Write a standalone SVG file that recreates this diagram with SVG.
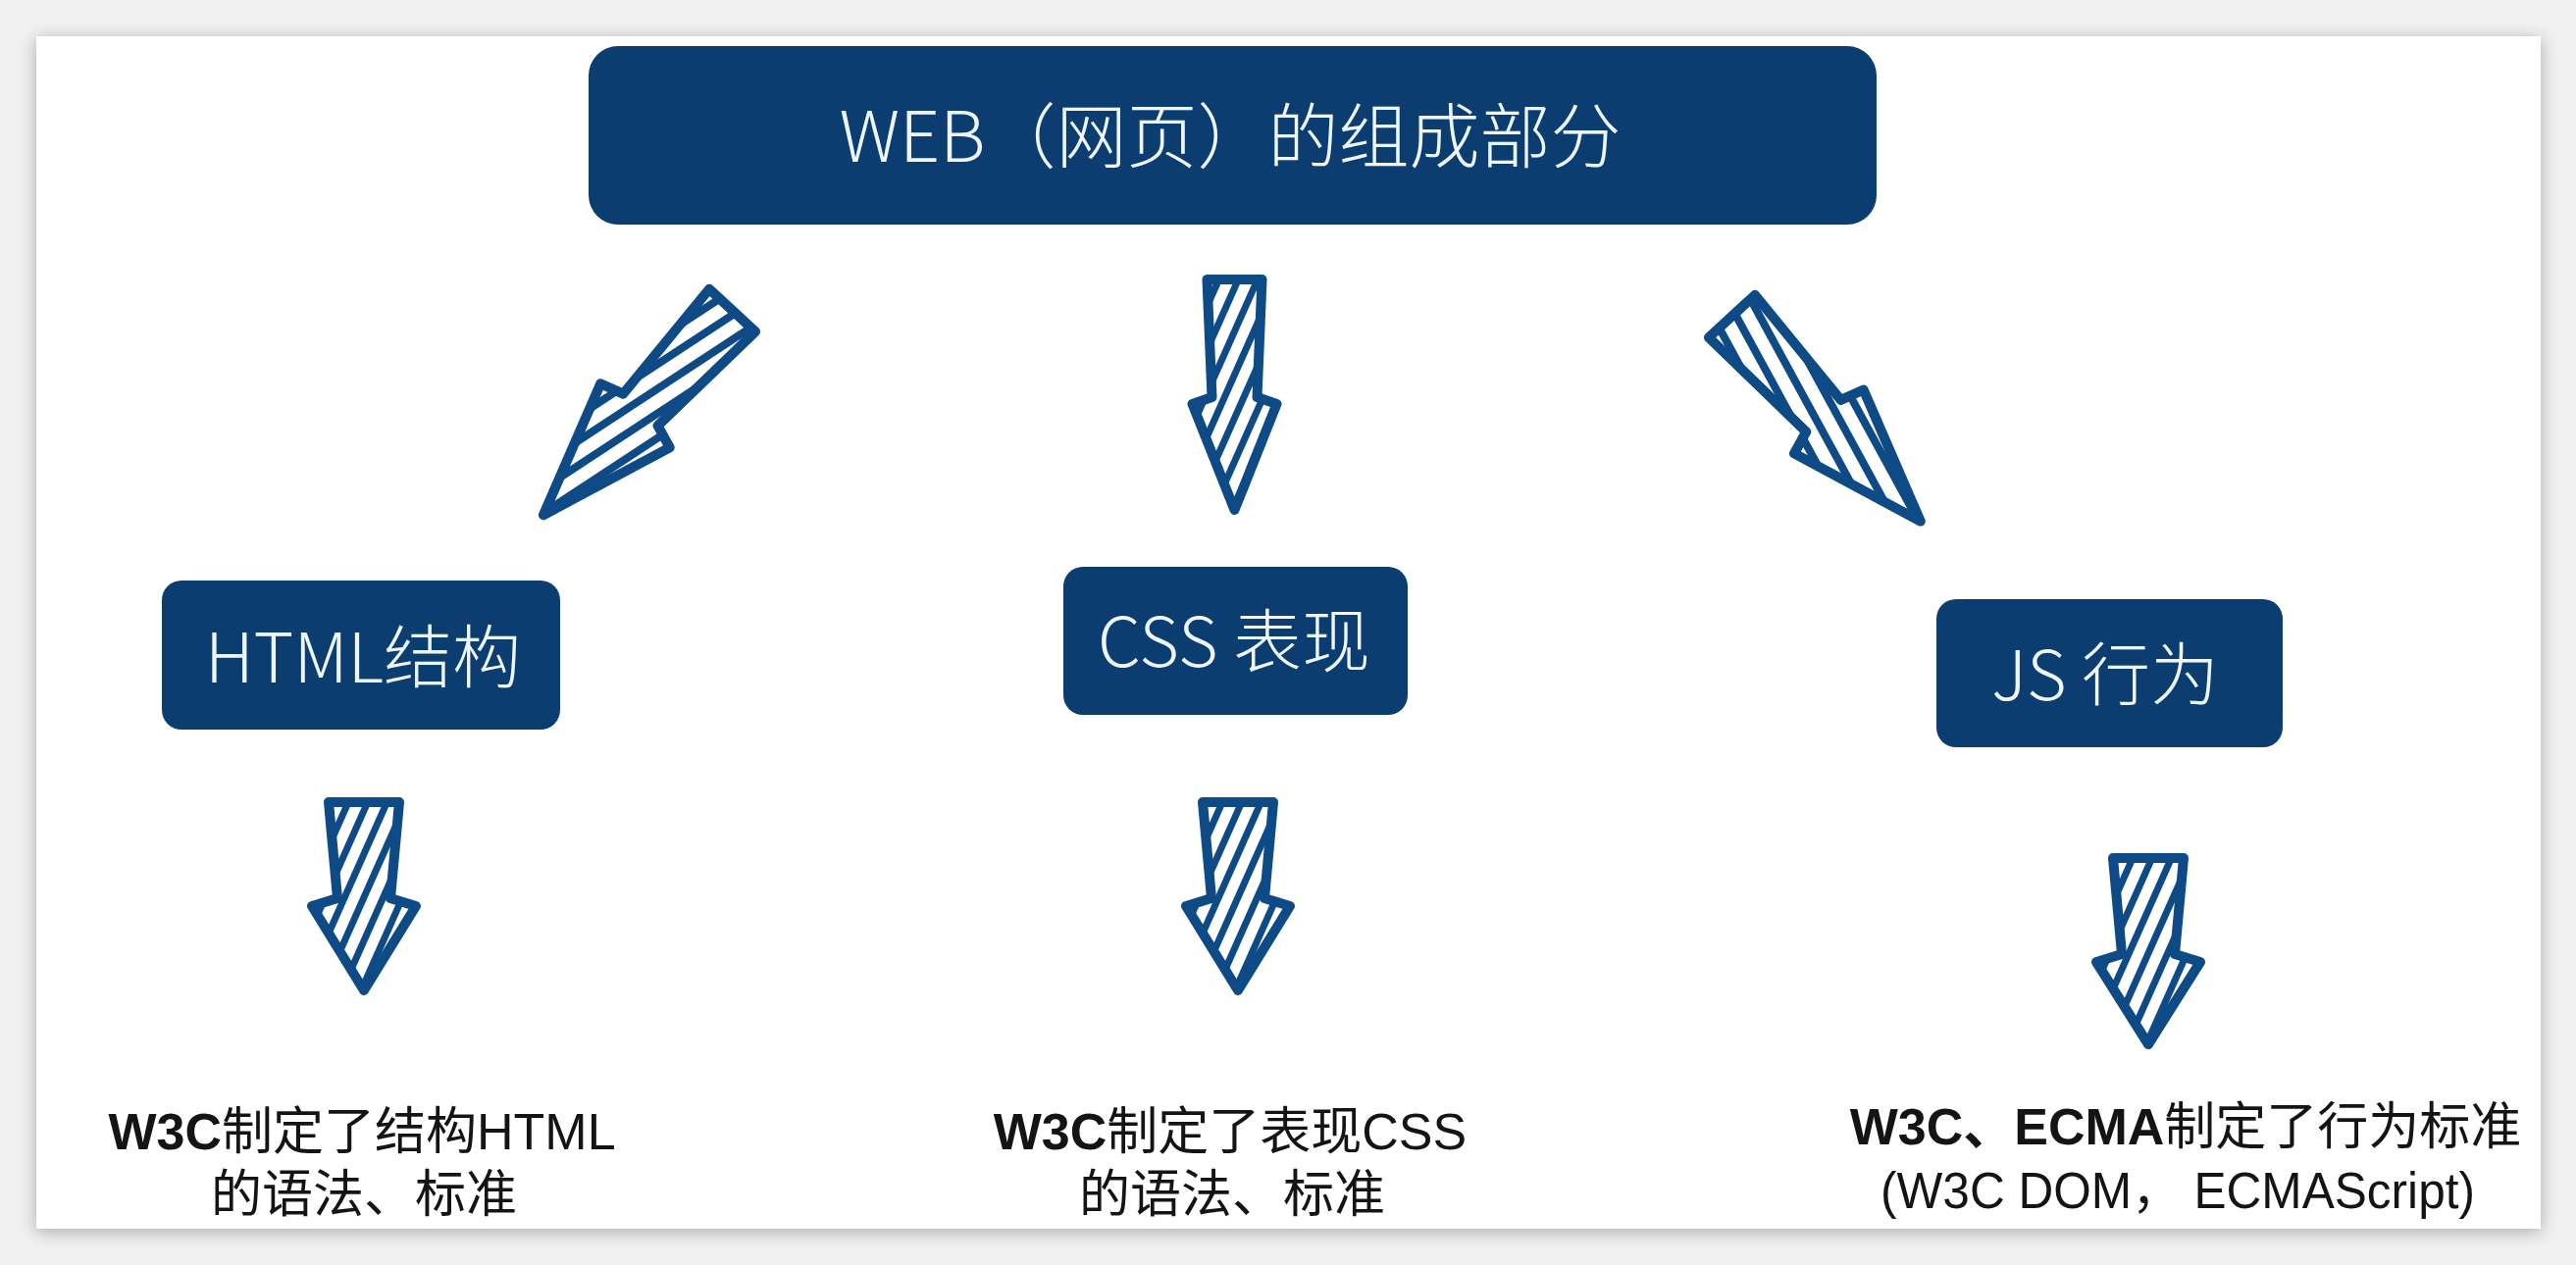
<svg xmlns="http://www.w3.org/2000/svg" width="2626" height="1290" viewBox="0 0 2626 1290">
<defs>
<style>
.box{fill:#0b3d71}
.lbl{font-family:"Noto Sans CJK SC","Noto Sans",sans-serif;font-weight:300;fill:#eef6ff;text-anchor:middle}
.cap{font-family:"Liberation Sans","Noto Sans CJK SC",sans-serif;font-size:52px;fill:#141414;text-anchor:middle}
.b{font-weight:bold}
.arr{stroke:#0d4a86;stroke-width:10;stroke-linejoin:round;stroke-linecap:round}
.h1{fill:url(#hatchV)}
.h2{fill:url(#hatchD)}
</style>
<filter id="sh" x="-5%" y="-5%" width="110%" height="110%"><feGaussianBlur stdDeviation="9"/></filter>
<pattern id="hatchV" patternUnits="userSpaceOnUse" width="18" height="18" patternTransform="rotate(24)">
<rect width="18" height="18" fill="#ffffff"/>
<rect x="0" width="7" height="18" fill="#0d4a86"/>
</pattern>
<pattern id="hatchD" patternUnits="userSpaceOnUse" width="21" height="21" patternTransform="rotate(14)">
<rect width="21" height="21" fill="#ffffff"/>
<rect x="0" width="8" height="21" fill="#0d4a86"/>
</pattern>
</defs>
<rect width="2626" height="1290" fill="#f1f1f1"/>
<rect x="37" y="40" width="2553" height="1216" fill="#a9a9a9" filter="url(#sh)"/>
<rect x="37" y="37" width="2553" height="1216" fill="#ffffff"/>

<g id="connectors">
<g id="arrow-web-html" transform="translate(746.5,316.5) rotate(42.7)">
<path class="arr h2" d="M -32,0 L 32,0 L 24,138 L 48,146 L 0,284 L -48,146 L -24,138 Z"/>
</g>
<g id="arrow-web-css" transform="translate(1258.5,285)">
<path class="arr h1" d="M -28,0 L 28,0 L 23,120 L 43,127 L 0,235 L -43,127 L -23,120 Z"/>
</g>
<g id="arrow-web-js" transform="translate(1765.5,322.5) rotate(-42.6)">
<path class="arr h2" d="M -32,0 L 32,0 L 24,138 L 48,146 L 0,284 L -48,146 L -24,138 Z"/>
</g>
<g id="arrow-html-std" transform="translate(371,818)">
<path class="arr h1" d="M -36,0 L 36,0 L 27,98 L 53,106 L 0,192 L -53,106 L -27,98 Z"/>
</g>
<g id="arrow-css-std" transform="translate(1262,818)">
<path class="arr h1" d="M -36,0 L 36,0 L 27,98 L 53,106 L 0,192 L -53,106 L -27,98 Z"/>
</g>
<g id="arrow-js-std" transform="translate(2190,875)">
<path class="arr h1" d="M -36,0 L 36,0 L 27,98 L 53,106 L 0,190 L -53,106 L -27,98 Z"/>
</g>
</g>

<g id="node-web">
<rect class="box" x="600" y="47" width="1313" height="182" rx="30"/>
<text class="lbl" x="1254" y="165" font-size="72">WEB（网页）的组成部分</text>
</g>
<g id="node-html">
<rect class="box" x="165" y="592" width="406" height="152" rx="20"/>
<text class="lbl" x="370" y="696" font-size="70">HTML结构</text>
</g>
<g id="node-css">
<rect class="box" x="1084" y="578" width="351" height="151" rx="20"/>
<text class="lbl" x="1258" y="680" font-size="70">CSS 表现</text>
</g>
<g id="node-js">
<rect class="box" x="1974" y="611" width="353" height="151" rx="20"/>
<text class="lbl" x="2146" y="714" font-size="70">JS 行为</text>
</g>

<g id="node-html-std">
<text class="cap" x="369" y="1172"><tspan class="b">W3C</tspan>制定了结构HTML</text>
<text class="cap" x="371" y="1236">的语法、标准</text>
</g>
<g id="node-css-std">
<text class="cap" x="1254" y="1172"><tspan class="b">W3C</tspan>制定了表现CSS</text>
<text class="cap" x="1256" y="1236">的语法、标准</text>
</g>
<g id="node-js-std">
<text class="cap" x="2228" y="1167"><tspan class="b">W3C、ECMA</tspan>制定了行为标准</text>
<text class="cap" x="2220" y="1232" textLength="606" lengthAdjust="spacingAndGlyphs">(W3C DOM， ECMAScript)</text>
</g>
</svg>
